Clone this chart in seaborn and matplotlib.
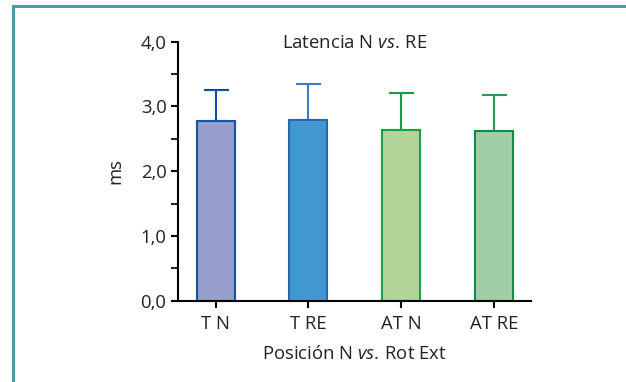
import matplotlib
matplotlib.use("Agg")
import matplotlib.pyplot as plt
import seaborn as sns
import pandas as pd
from matplotlib.patches import Rectangle
from matplotlib.ticker import MultipleLocator

categories = ["T N", "T RE", "AT N", "AT RE"]
means = [2.77, 2.79, 2.64, 2.62]
errors = [0.49, 0.55, 0.57, 0.56]
fill_colors = ["#979FCD", "#4299D2", "#B3D498", "#9FCFA6"]
edge_colors = ["#1454A4", "#2A66AE", "#12A34A", "#0E8C48"]
err_colors = ["#0A4E9F", "#3E7BBE", "#0DA048", "#2A9A58"]
y_ticks = [0.0, 1.0, 2.0, 3.0, 4.0]
y_tick_labels = ["0,0", "1,0", "2,0", "3,0", "4,0"]

sns.set_style("ticks")
plt.rcParams["font.family"] = ["Open Sans", "DejaVu Sans"]
plt.rcParams["mathtext.fontset"] = "custom"
plt.rcParams["mathtext.rm"] = "Open Sans"
plt.rcParams["mathtext.it"] = "Open Sans:italic"

FS = 13.3
TXT = "#222222"

fig = plt.figure(figsize=(6.26, 3.82), dpi=100)
ax = fig.add_axes([0.2839, 0.2128, 0.848 - 0.2839, 0.8908 - 0.2128])

df = pd.DataFrame({"cat": categories, "val": means})
sns.barplot(data=df, x="cat", y="val", hue="cat", palette=fill_colors,
            saturation=1, errorbar=None, width=0.41, legend=False, ax=ax, zorder=2)
for p, ec in zip(ax.patches, edge_colors):
    p.set_edgecolor(ec)
    p.set_linewidth(1.5)

for i, (m, e, c) in enumerate(zip(means, errors, err_colors)):
    ax.errorbar(i, m, yerr=[[0], [e]], fmt="none", ecolor=c,
                elinewidth=1.5, capsize=9, capthick=1.5, zorder=1)

ax.set_xlim(-0.41, 3.40)
ax.set_ylim(0, 4.0)
ax.set_yticks(y_ticks)
ax.set_yticklabels(y_tick_labels)
ax.yaxis.set_minor_locator(MultipleLocator(0.5))
for s in ["top", "right"]:
    ax.spines[s].set_visible(False)
for s in ["left", "bottom"]:
    ax.spines[s].set_linewidth(1.5)
    ax.spines[s].set_color("black")
ax.tick_params(axis="both", which="major", length=5, width=1.5, labelsize=FS,
               colors="black", labelcolor=TXT, pad=3)
ax.tick_params(axis="y", which="minor", length=5, width=1.5)
ax.tick_params(axis="x", pad=5)

ax.set_xlabel("Posición N $\\mathit{vs.}\\,$Rot Ext", fontsize=FS, color=TXT, labelpad=9)
ax.set_ylabel("ms", fontsize=FS, color=TXT, labelpad=12)
ax.text(0.5, 0.995, "Latencia N $\\mathit{vs.}\\,$RE", transform=ax.transAxes,
        ha="center", va="center", fontsize=FS, color=TXT)

W, H = 626, 382
frame = Rectangle((13.3 / W, -0.1), 1.2, (H - 5.8) / H + 0.1, transform=fig.transFigure,
                  fill=False, edgecolor="#4A9DA5", linewidth=2.2, clip_on=False)
fig.patches.append(frame)

fig.savefig("out.png", dpi=100)
